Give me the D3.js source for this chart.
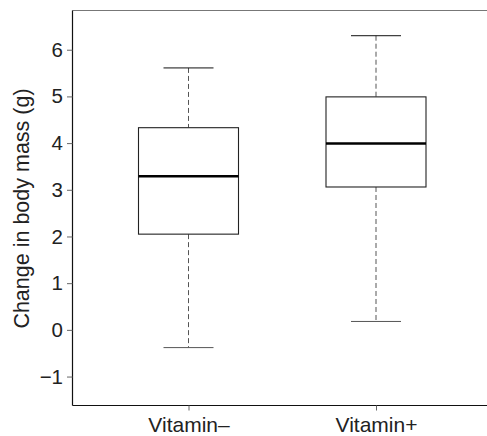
<!DOCTYPE html>
<html>
<head>
<meta charset="utf-8">
<script src="https://cdn.jsdelivr.net/npm/d3@7"></script>
<style>
  body { margin: 0; background: #fff; }
  text { font-family: "Liberation Sans", Arial, sans-serif; fill: #222; }
</style>
</head>
<body>
<script>
// Box plot data
var groups = ["Vitamin–", "Vitamin+"];
var lowerWhisker = [-0.38, 0.18];
var q1 = [2.05, 3.06];
var median = [3.29, 3.99];
var q3 = [4.33, 4.99];
var upperWhisker = [5.61, 6.30];
var yTicks = [-1, 0, 1, 2, 3, 4, 5, 6];

var w = 487, h = 436;
var plotLeft = 72.5, plotTop = 10.5, plotBottom = 405.5;

var svg = d3.select("body").append("svg").attr("width", w).attr("height", h);

// Scales
var yScale = d3.scaleLinear().domain([-1.62, 6.84]).range([plotBottom, plotTop]);
var xScale = d3.scalePoint().domain(groups).range([188.5, 376]);

// Frame lines (right edge is cut off in the picture)
svg.append("line").attr("x1", plotLeft).attr("x2", w).attr("y1", plotTop).attr("y2", plotTop)
   .attr("stroke", "#777").attr("stroke-width", 1.2);
svg.append("line").attr("x1", plotLeft).attr("x2", w).attr("y1", plotBottom).attr("y2", plotBottom)
   .attr("stroke", "#111").attr("stroke-width", 1.2);

// Y axis
var yAxis = d3.axisLeft(yScale).tickValues(yTicks).tickSize(5.5).tickPadding(4)
  .tickFormat(function(d) { return d < 0 ? "\u2212" + Math.abs(d) : d; });
var gy = svg.append("g").attr("transform", "translate(" + plotLeft + ",0)").call(yAxis);
gy.select(".domain").attr("d", "M0," + plotTop + "V" + plotBottom).attr("stroke", "#111").attr("stroke-width", 1.2);
gy.selectAll(".tick line").attr("stroke", "#666");
gy.selectAll("text").style("font-size", "20.5px").attr("fill", "#222");

// X axis
var xAxis = d3.axisBottom(xScale).tickSize(5).tickPadding(5);
var gx = svg.append("g").attr("transform", "translate(0," + plotBottom + ")").call(xAxis);
gx.select(".domain").remove();
gx.selectAll(".tick line").attr("stroke", "#666");
gx.selectAll("text").style("font-size", "21px").attr("fill", "#222")
  .attr("y", 26).attr("dy", 0);

// Y label
svg.append("text").attr("transform", "translate(28.5,208.5) rotate(-90)")
   .attr("text-anchor", "middle").style("font-size", "21.5px")
   .text("Change in body mass (g)");

// Boxes
var boxW = 100, capW = 50;
var data = groups.map(function(g, i) {
  return { g: g, lo: lowerWhisker[i], q1: q1[i], med: median[i], q3: q3[i], hi: upperWhisker[i] };
});

var box = svg.selectAll(".box").data(data).enter().append("g").attr("class", "box");

// Whiskers (dashed)
box.append("line")
   .attr("x1", function(d) { return xScale(d.g); })
   .attr("x2", function(d) { return xScale(d.g); })
   .attr("y1", function(d) { return yScale(d.hi); })
   .attr("y2", function(d) { return yScale(d.q3); })
   .attr("stroke", "#555").attr("stroke-dasharray", "5,3");
box.append("line")
   .attr("x1", function(d) { return xScale(d.g); })
   .attr("x2", function(d) { return xScale(d.g); })
   .attr("y1", function(d) { return yScale(d.q1); })
   .attr("y2", function(d) { return yScale(d.lo); })
   .attr("stroke", "#555").attr("stroke-dasharray", "5,3");

// Caps
["hi", "lo"].forEach(function(k) {
  box.append("line")
     .attr("x1", function(d) { return xScale(d.g) - capW / 2; })
     .attr("x2", function(d) { return xScale(d.g) + capW / 2; })
     .attr("y1", function(d) { return yScale(d[k]); })
     .attr("y2", function(d) { return yScale(d[k]); })
     .attr("stroke", k == "hi" ? "#111" : "#555").attr("stroke-width", 1);
});

// Box rectangles
box.append("rect")
   .attr("x", function(d) { return xScale(d.g) - boxW / 2; })
   .attr("width", boxW)
   .attr("y", function(d) { return yScale(d.q3); })
   .attr("height", function(d) { return yScale(d.q1) - yScale(d.q3); })
   .attr("fill", "#fff").attr("stroke", "#222").attr("stroke-width", 1.1);

// Medians
box.append("line")
   .attr("x1", function(d) { return xScale(d.g) - boxW / 2; })
   .attr("x2", function(d) { return xScale(d.g) + boxW / 2; })
   .attr("y1", function(d) { return yScale(d.med); })
   .attr("y2", function(d) { return yScale(d.med); })
   .attr("stroke", "#000").attr("stroke-width", 2.5);
</script>
</body>
</html>
